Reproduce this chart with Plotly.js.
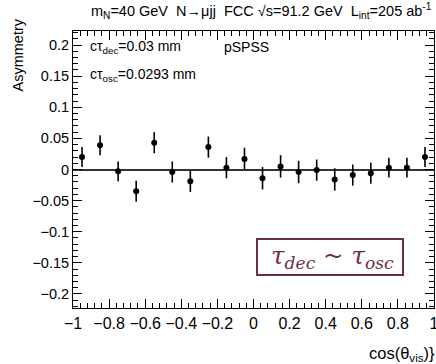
<!DOCTYPE html>
<html>
<head>
<meta charset="utf-8">
<script src="https://cdn.plot.ly/plotly-3.0.1.min.js"></script>
<style>html,body{margin:0;padding:0;background:#fff;}#chart{width:436px;height:364px;}</style>
</head>
<body>
<div id="chart"></div>
<script>
// Bin centres of cos(theta_vis)
const binCenters = [-0.95,-0.85,-0.75,-0.65,-0.55,-0.45,-0.35,-0.25,-0.15,-0.05,
                    0.05,0.15,0.25,0.35,0.45,0.55,0.65,0.75,0.85,0.95];
// Asymmetry values
const asymmetry = [0.020,0.039,-0.003,-0.035,0.043,-0.004,-0.019,0.036,0.003,0.017,
                   -0.014,0.005,-0.004,-0.001,-0.016,-0.009,-0.006,0.003,0.003,0.020];
// Statistical uncertainties
const asymErr = [0.016,0.016,0.016,0.017,0.017,0.017,0.017,0.017,0.017,0.018,
                 0.018,0.018,0.018,0.017,0.018,0.017,0.017,0.016,0.016,0.016];
const xTickVals = [-1,-0.8,-0.6,-0.4,-0.2,0,0.2,0.4,0.6,0.8,1];
const yTickVals = [-0.2,-0.15,-0.1,-0.05,0,0.05,0.1,0.15,0.2];

const font = 'Liberation Sans, Arial, Helvetica, sans-serif';
const maroon = '#6b2e42';

const trace = {
  x: binCenters, y: asymmetry, type: 'scatter', mode: 'markers',
  marker: {color: '#000', size: 6},
  error_y: {type: 'data', array: asymErr, visible: true, color: '#000', thickness: 1.6, width: 0},
  showlegend: false, cliponaxis: false
};

const layout = {
  width: 436, height: 364,
  margin: {l: 73, r: 2, t: 31, b: 56},
  paper_bgcolor: '#fff', plot_bgcolor: '#fff',
  font: {family: font, size: 14, color: '#000'},
  xaxis: {
    range: [-1, 1], tickmode: 'array', tickvals: xTickVals,
    ticks: 'inside', ticklen: 9, tickwidth: 1, tickcolor: '#000',
    showline: true, linecolor: '#000', linewidth: 1, mirror: 'allticks',
    showgrid: false, zeroline: false,
    tickfont: {family: font, size: 16, color: '#000'},
    ticklabelstandoff: 1, ticklabeloverflow: 'allow',
    minor: {ticks: 'inside', ticklen: 5, tick0: -1, dtick: 0.04, tickcolor: '#000', tickwidth: 1, showgrid: false}
  },
  yaxis: {
    range: [-0.2225, 0.2225], tickmode: 'array', tickvals: yTickVals,
    ticks: 'inside', ticklen: 9, tickwidth: 1, tickcolor: '#000',
    showline: true, linecolor: '#000', linewidth: 1, mirror: 'allticks',
    showgrid: false, zeroline: true, zerolinecolor: '#333', zerolinewidth: 2,
    tickfont: {family: font, size: 14.5, color: '#000'},
    ticklabelstandoff: 0,
    minor: {ticks: 'inside', ticklen: 5, tick0: 0, dtick: 0.01, tickcolor: '#000', tickwidth: 1, showgrid: false}
  },
  shapes: [
    {type: 'rect', xref: 'paper', yref: 'paper', x0: 0.5097, x1: 0.9141, y0: 0.119, y1: 0.249,
     line: {color: maroon, width: 2}, fillcolor: 'rgba(0,0,0,0)'}
  ],
  annotations: [
    {xref: 'paper', yref: 'paper', x: 1.0, y: 1.0, xanchor: 'right', yanchor: 'bottom', yshift: 8,
     text: 'm<sub>N</sub>=40 GeV  N→μjj  FCC √s=91.2 GeV  L<sub>int</sub>=205 ab<sup>-1</sup>',
     showarrow: false, font: {family: font, size: 14.5, color: '#000'}},
    {xref: 'paper', yref: 'paper', x: 0.042, y: 0.943, xanchor: 'left', yanchor: 'middle',
     text: 'cτ<sub>dec</sub>=0.03 mm', showarrow: false, font: {family: font, size: 14, color: '#000'}},
    {xref: 'paper', yref: 'paper', x: 0.412, y: 0.943, xanchor: 'left', yanchor: 'middle',
     text: 'pSPSS', showarrow: false, font: {family: font, size: 14, color: '#000'}},
    {xref: 'paper', yref: 'paper', x: 0.042, y: 0.842, xanchor: 'left', yanchor: 'middle',
     text: 'cτ<sub>osc</sub>=0.0293 mm', showarrow: false, font: {family: font, size: 14, color: '#000'}},
    {xref: 'paper', yref: 'paper', x: 0.718, y: 0.184, xanchor: 'center', yanchor: 'middle',
     text: '<i>τ<sub>dec</sub> ~ τ<sub>osc</sub></i>', showarrow: false,
     font: {family: 'DejaVu Serif, Liberation Serif, serif', size: 24.5, color: maroon}},
    {xref: 'paper', yref: 'paper', x: 1.0, y: 0, xanchor: 'right', yanchor: 'top', yshift: -34, xshift: 3,
     text: 'cos(θ<sub>vis</sub>)}', showarrow: false, font: {family: font, size: 16.5, color: '#000'}},
    {xref: 'paper', yref: 'paper', x: 0, y: 1, xanchor: 'center', yanchor: 'top', xshift: -56, yshift: 14,
     text: 'Asymmetry', textangle: -90, showarrow: false, font: {family: font, size: 14.5, color: '#000'}}
  ]
};

Plotly.newPlot('chart', [trace], layout, {displayModeBar: false, staticPlot: true});
</script>
</body>
</html>
